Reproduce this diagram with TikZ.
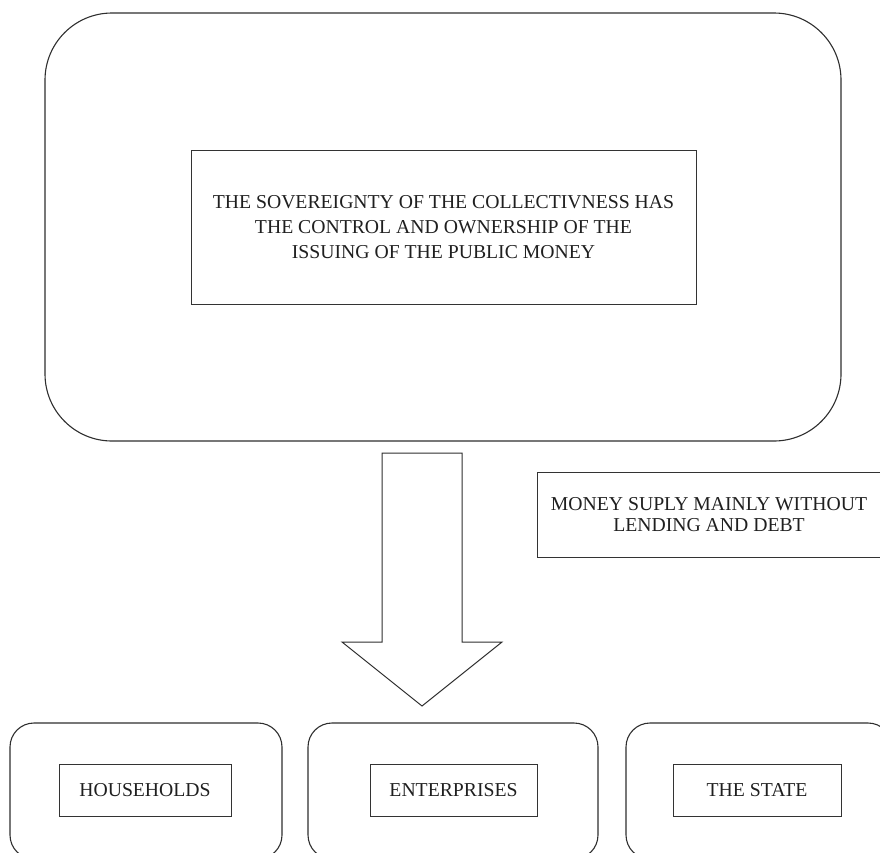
\documentclass[tikz,border=0pt]{standalone}
\usepackage{fontspec}
\setmainfont{Liberation Serif}
\begin{document}
\begin{tikzpicture}[x=1pt,y=-1pt,
  line width=1.1pt,
  every node/.style={inner sep=0pt, text=black!88},
  frame/.style={draw=black!80, line width=0.85pt, minimum width=#1},
  roundframe/.style={draw=black!82, rounded corners=24pt},
  label/.style={font=\fontsize{19.7}{25}\selectfont, align=center},
  bigarrow/.style={draw=black!82, line width=1pt, line join=miter}]
\useasboundingbox (0,0) rectangle (880,852);

% sovereign issuer
\node[draw=black!82, rounded corners=67pt, minimum width=796pt, minimum height=428pt] (outer) at (443,227) {};
\node[frame=505pt, minimum height=154pt, label] (issuer) at (443.5,227)
  {THE SOVEREIGNTY OF THE COLLECTIVNESS HAS\\THE CONTROL AND OWNERSHIP OF THE\\ISSUING OF THE PUBLIC MONEY};

% note on the money supply
\node[frame=344pt, minimum height=85pt, label, font=\fontsize{19.7}{21.5}\selectfont] (supply) at (709,514.5)
  {MONEY SUPLY MAINLY WITHOUT\\LENDING AND DEBT};

% receiving sectors
\node[roundframe, minimum width=272pt, minimum height=136pt] (hhbox) at (146,791) {};
\node[frame=172pt, minimum height=52pt, label] (hh) at (145,790) {HOUSEHOLDS};

\node[roundframe, minimum width=290pt, minimum height=136pt] (entbox) at (453,791) {};
\node[frame=167pt, minimum height=52pt, label] (ent) at (453.5,790) {ENTERPRISES};

\node[roundframe, minimum width=266pt, minimum height=136pt] (statebox) at (759,791) {};
\node[frame=168pt, minimum height=52pt, label] (state) at (757,790) {THE STATE};

% block arrow from the issuer down to the sectors
\coordinate (atop) at (422,453);
\coordinate (atip) at (422,706);
\draw[bigarrow] ([xshift=-40pt]atop) -- ([xshift=40pt]atop)
  -- ([xshift=40pt,yshift=64pt]atip) -- ([xshift=80pt,yshift=64pt]atip)
  -- (atip)
  -- ([xshift=-80pt,yshift=64pt]atip) -- ([xshift=-40pt,yshift=64pt]atip)
  -- cycle;
\end{tikzpicture}
\end{document}
